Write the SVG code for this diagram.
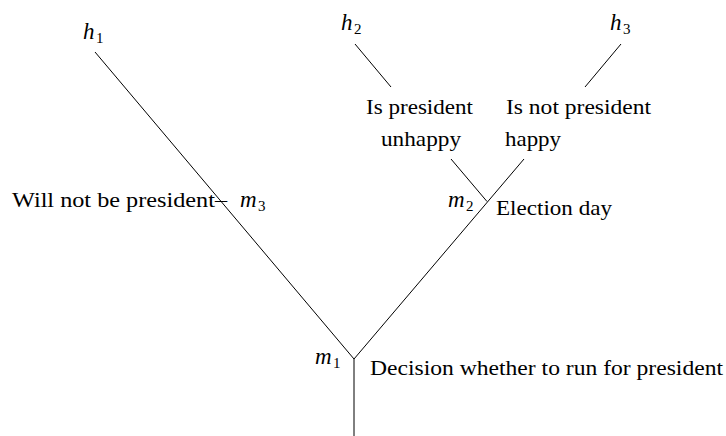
<svg xmlns="http://www.w3.org/2000/svg" width="726" height="436" viewBox="0 0 726 436">
  <style>
    .e { stroke: #000; stroke-width: 1; fill: none; }
  </style>
  <rect width="726" height="436" fill="#fff"/>

  <g id="connectors">
    <line class="e" x1="354" y1="359" x2="354" y2="436"/>
    <line class="e" x1="354" y1="359" x2="95" y2="52"/>
    <line class="e" x1="354" y1="359" x2="524" y2="159"/>
    <line class="e" x1="487" y1="201.5" x2="451" y2="159"/>
    <line class="e" x1="391" y1="87" x2="355" y2="44"/>
    <line class="e" x1="585" y1="87" x2="621" y2="44"/>
  </g>

  <g id="node-m1">
    <text x="315" y="364" font-family="Liberation Serif" font-style="italic" font-size="23">m</text>
    <text x="333" y="368" font-family="Liberation Serif" font-size="15">1</text>
    <text x="370" y="375" font-family="Liberation Serif" font-size="22" textLength="353" lengthAdjust="spacingAndGlyphs">Decision whether to run for president</text>
  </g>

  <g id="node-m3">
    <text x="12" y="206.5" font-family="Liberation Serif" font-size="22" textLength="215" lengthAdjust="spacingAndGlyphs">Will not be president–</text>
    <text x="240" y="206.5" font-family="Liberation Serif" font-style="italic" font-size="23">m</text>
    <text x="258" y="210.5" font-family="Liberation Serif" font-size="15">3</text>
  </g>

  <g id="node-m2">
    <text x="448" y="207" font-family="Liberation Serif" font-style="italic" font-size="23">m</text>
    <text x="466" y="211" font-family="Liberation Serif" font-size="15">2</text>
    <text x="496" y="215" font-family="Liberation Serif" font-size="22" textLength="116" lengthAdjust="spacingAndGlyphs">Election day</text>
  </g>

  <g id="node-unhappy">
    <text x="366" y="114" font-family="Liberation Serif" font-size="22" textLength="107" lengthAdjust="spacingAndGlyphs">Is president</text>
    <text x="381" y="145.5" font-family="Liberation Serif" font-size="22" textLength="80" lengthAdjust="spacingAndGlyphs">unhappy</text>
  </g>

  <g id="node-happy">
    <text x="506" y="114" font-family="Liberation Serif" font-size="22" textLength="145" lengthAdjust="spacingAndGlyphs">Is not president</text>
    <text x="505" y="145.5" font-family="Liberation Serif" font-size="22" textLength="56" lengthAdjust="spacingAndGlyphs">happy</text>
  </g>

  <g id="node-h1">
    <text x="83" y="39" font-family="Liberation Serif" font-style="italic" font-size="23">h</text>
    <text x="96" y="43" font-family="Liberation Serif" font-size="15">1</text>
  </g>

  <g id="node-h2">
    <text x="341" y="30" font-family="Liberation Serif" font-style="italic" font-size="23">h</text>
    <text x="354" y="34" font-family="Liberation Serif" font-size="15">2</text>
  </g>

  <g id="node-h3">
    <text x="610" y="30" font-family="Liberation Serif" font-style="italic" font-size="23">h</text>
    <text x="623" y="34" font-family="Liberation Serif" font-size="15">3</text>
  </g>
</svg>
